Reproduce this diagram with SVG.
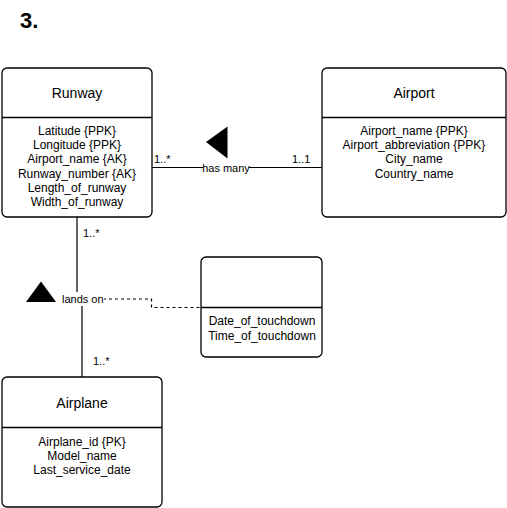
<svg xmlns="http://www.w3.org/2000/svg" width="507" height="508" viewBox="0 0 507 508">
  <style>
    text { font-family: "Liberation Sans", Arial, sans-serif; fill: #000; }
    .box { fill: #fff; stroke: #000; stroke-width: 1.3; }
    .div { stroke: #000; stroke-width: 1.3; }
    .title { font-size: 14px; text-anchor: middle; }
    .attr { font-size: 12px; text-anchor: middle; }
    .lbl { font-size: 11px; }
    .edge { fill: none; stroke: #000; stroke-width: 1.2; }
    .dash { fill: none; stroke: #000; stroke-width: 1.2; stroke-dasharray: 3 3; }
    .tri { fill: #000; }
  </style>

  <text x="20" y="28" font-size="22" font-weight="bold">3.</text>

  <!-- connectors -->
  <g id="connectors">
    <!-- Runway - Airport -->
    <line class="edge" x1="152" y1="167.5" x2="322" y2="167.5"/>
    <rect x="203" y="161" width="46" height="13" fill="#fff"/>
    <text class="lbl" x="226" y="171.5" text-anchor="middle">has many</text>
    <text class="lbl" x="154" y="163">1..*</text>
    <text class="lbl" x="292" y="163">1..1</text>
    <polygon class="tri" points="206,142 227.5,126.5 227.5,158.5"/>

    <!-- Runway - Airplane -->
    <polyline class="edge" points="77,217 77,299 82,299 82,377"/>
    <polyline class="dash" points="103,299 151.5,299 151.5,307.5 201,307.5"/>
    <rect x="61" y="292" width="43" height="14" fill="#fff"/>
    <text class="lbl" x="62" y="302.5">lands on</text>
    <text class="lbl" x="83" y="237">1..*</text>
    <text class="lbl" x="93" y="365">1..*</text>
    <polygon class="tri" points="26,302 41,281.5 56,302"/>
  </g>

  <g id="runway">
    <rect class="box" x="2" y="68" width="150" height="149" rx="5"/>
    <line class="div" x1="2" y1="117.5" x2="152" y2="117.5"/>
    <text class="title" x="77" y="98">Runway</text>
    <text class="attr" x="77" y="135">Latitude {PPK}</text>
    <text class="attr" x="77" y="149.2">Longitude {PPK}</text>
    <text class="attr" x="77" y="163.4">Airport_name {AK}</text>
    <text class="attr" x="77" y="177.6">Runway_number {AK}</text>
    <text class="attr" x="77" y="191.8">Length_of_runway</text>
    <text class="attr" x="77" y="206">Width_of_runway</text>
  </g>

  <g id="airport">
    <rect class="box" x="322" y="68" width="184" height="149" rx="5"/>
    <line class="div" x1="322" y1="117.5" x2="506" y2="117.5"/>
    <text class="title" x="414" y="98">Airport</text>
    <text class="attr" x="414" y="135">Airport_name {PPK}</text>
    <text class="attr" x="414" y="149.2">Airport_abbreviation {PPK}</text>
    <text class="attr" x="414" y="163.4">City_name</text>
    <text class="attr" x="414" y="177.6">Country_name</text>
  </g>

  <g id="touchdown">
    <rect class="box" x="201" y="257" width="121" height="100" rx="5"/>
    <line class="div" x1="201" y1="307.5" x2="322" y2="307.5"/>
    <text class="attr" x="262" y="324.5">Date_of_touchdown</text>
    <text class="attr" x="262" y="339.5">Time_of_touchdown</text>
  </g>

  <g id="airplane">
    <rect class="box" x="2" y="377" width="160" height="130" rx="5"/>
    <line class="div" x1="2" y1="427.5" x2="162" y2="427.5"/>
    <text class="title" x="82" y="408">Airplane</text>
    <text class="attr" x="82" y="445.5">Airplane_id {PK}</text>
    <text class="attr" x="82" y="459.5">Model_name</text>
    <text class="attr" x="82" y="473.5">Last_service_date</text>
  </g>
</svg>
